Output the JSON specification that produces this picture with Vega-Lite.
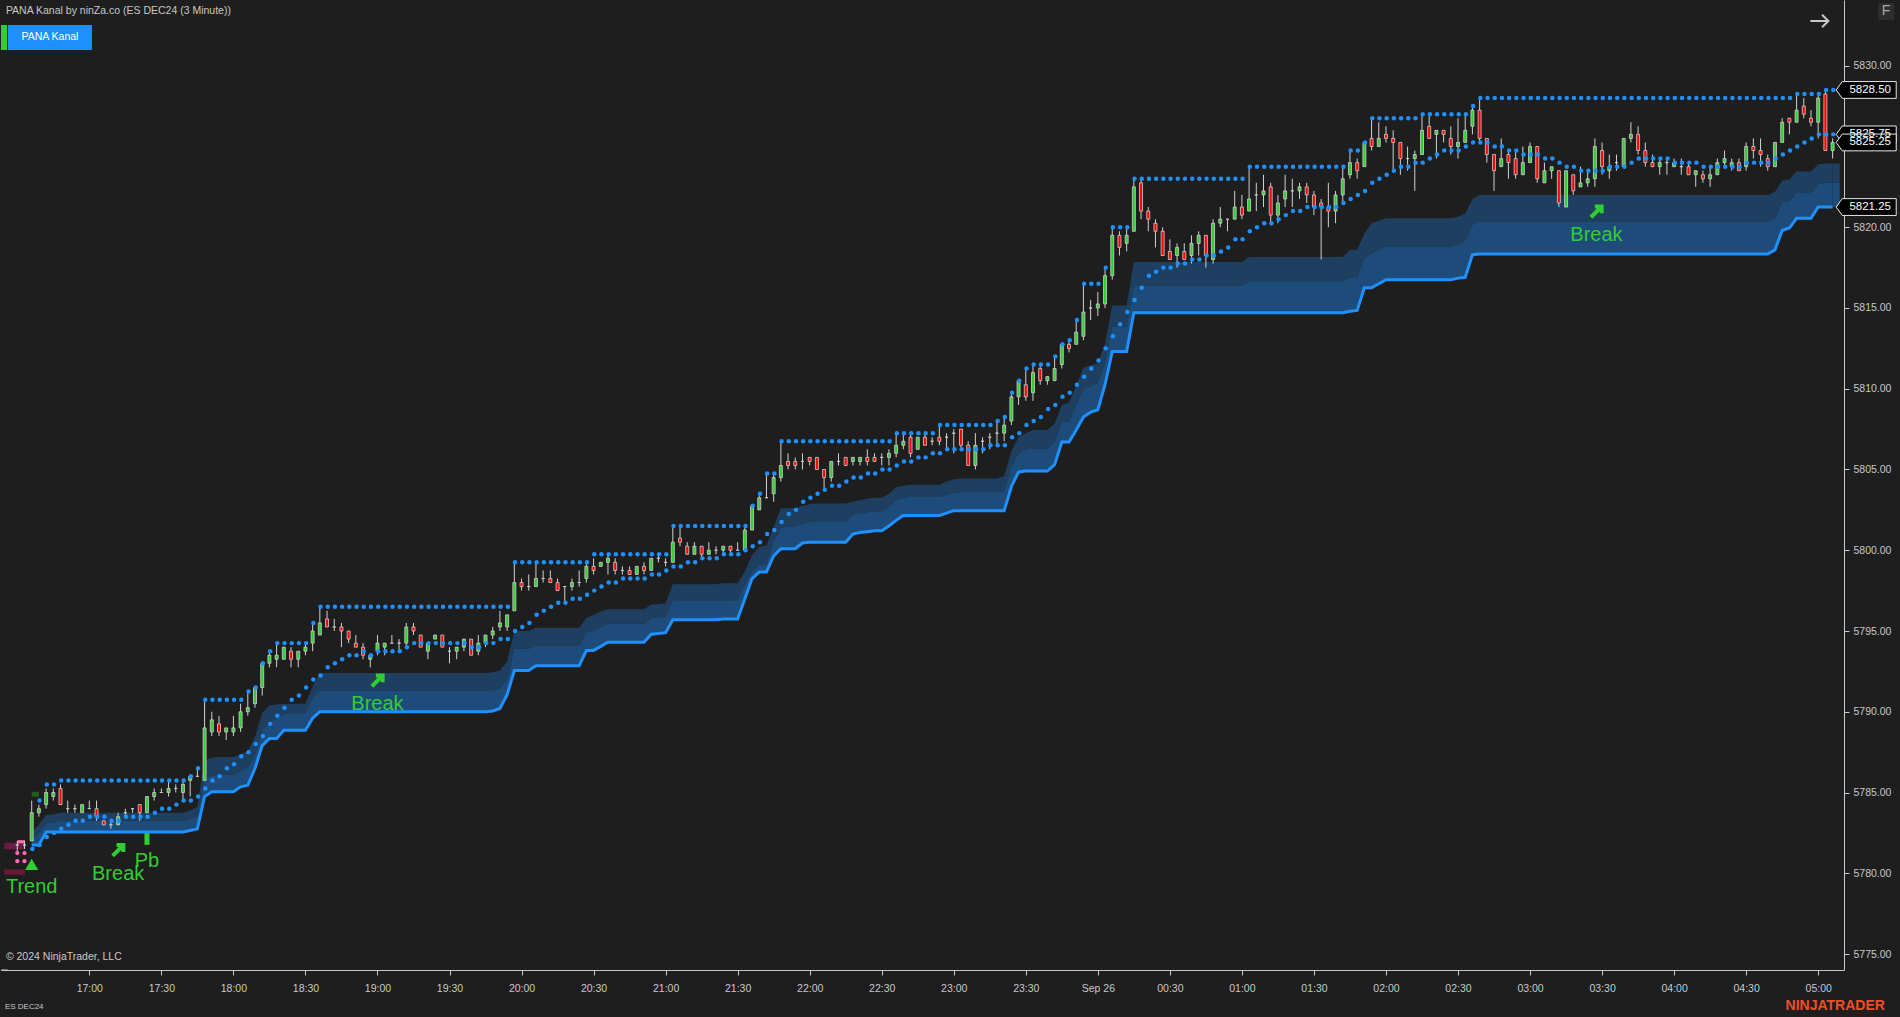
{"$schema":"https://vega.github.io/schema/vega-lite/v6.json","autosize":{"type":"fit","contains":"padding"},"padding":{"left":0,"top":0,"right":0,"bottom":2},"width":1900,"height":1017,"background":"#1e1e1e","config":{"view":{"stroke":null},"font":"Liberation Sans"},
"datasets":{"bars":[
{"t":"2024-09-25T16:30","o":5781.75,"h":5782,"l":5781.25,"c":5781.75},
{"t":"2024-09-25T16:33","o":5781.75,"h":5782,"l":5781.5,"c":5781.75},
{"t":"2024-09-25T16:36","o":5782,"h":5784.5,"l":5782,"c":5783.75,"d":5781.5,"a":5782.55,"m":5782.1,"b":5781.75},
{"t":"2024-09-25T16:39","o":5783.75,"h":5784.25,"l":5783.5,"c":5784,"u":5784.5,"d":5781.75,"a":5783,"m":5782.5,"b":5781.75},
{"t":"2024-09-25T16:42","o":5784.25,"h":5785.25,"l":5784,"c":5785,"u":5785.5,"d":5782.25,"a":5783.6,"m":5783.1,"b":5782.55},
{"t":"2024-09-25T16:45","o":5784.75,"h":5785.25,"l":5784.5,"c":5785,"u":5785.5,"d":5782.5,"a":5783.65,"m":5783.15,"b":5782.55},
{"t":"2024-09-25T16:48","o":5785.25,"h":5785.5,"l":5784.25,"c":5784.25,"u":5785.75,"d":5782.75,"a":5783.75,"m":5783.25,"b":5782.55},
{"t":"2024-09-25T16:51","o":5784,"h":5784.5,"l":5783.75,"c":5784,"u":5785.75,"d":5783,"a":5783.75,"m":5783.25,"b":5782.55},
{"t":"2024-09-25T16:54","o":5784,"h":5784.25,"l":5783.75,"c":5784,"u":5785.75,"d":5783.25,"a":5783.75,"m":5783.25,"b":5782.55},
{"t":"2024-09-25T16:57","o":5783.75,"h":5784.25,"l":5783.75,"c":5784.25,"u":5785.75,"d":5783.25,"a":5783.75,"m":5783.25,"b":5782.55},
{"t":"2024-09-25T17:00","o":5784,"h":5784.5,"l":5784,"c":5784,"u":5785.75,"d":5783.5,"a":5783.75,"m":5783.25,"b":5782.55},
{"t":"2024-09-25T17:03","o":5784,"h":5784.5,"l":5783.25,"c":5783.5,"u":5785.75,"d":5783.5,"a":5783.75,"m":5783.25,"b":5782.55},
{"t":"2024-09-25T17:06","o":5783.25,"h":5783.25,"l":5783,"c":5783,"u":5785.75,"d":5783.5,"a":5783.75,"m":5783.25,"b":5782.55},
{"t":"2024-09-25T17:09","o":5783,"h":5783.25,"l":5782.75,"c":5783,"u":5785.75,"d":5783.25,"a":5783.75,"m":5783.25,"b":5782.55},
{"t":"2024-09-25T17:12","o":5783,"h":5783.75,"l":5783,"c":5783.5,"u":5785.75,"d":5783.25,"a":5783.75,"m":5783.25,"b":5782.55},
{"t":"2024-09-25T17:15","o":5783.75,"h":5784,"l":5783.5,"c":5783.75,"u":5785.75,"d":5783.5,"a":5783.75,"m":5783.25,"b":5782.55},
{"t":"2024-09-25T17:18","o":5784,"h":5784,"l":5783.75,"c":5784,"u":5785.75,"d":5783.5,"a":5783.75,"m":5783.25,"b":5782.55},
{"t":"2024-09-25T17:21","o":5784.25,"h":5784.25,"l":5783.25,"c":5783.75,"u":5785.75,"d":5783.5,"a":5783.75,"m":5783.25,"b":5782.55},
{"t":"2024-09-25T17:24","o":5783.75,"h":5784.75,"l":5783.75,"c":5784.75,"u":5785.75,"d":5783.5,"a":5783.75,"m":5783.25,"b":5782.55},
{"t":"2024-09-25T17:27","o":5784.75,"h":5785.25,"l":5784.5,"c":5785,"u":5785.75,"d":5783.75,"a":5783.75,"m":5783.25,"b":5782.55},
{"t":"2024-09-25T17:30","o":5785,"h":5785.25,"l":5785,"c":5785,"u":5785.75,"d":5784,"a":5783.75,"m":5783.25,"b":5782.55},
{"t":"2024-09-25T17:33","o":5785,"h":5785.75,"l":5784.75,"c":5785.25,"u":5785.75,"d":5784,"a":5783.75,"m":5783.25,"b":5782.55},
{"t":"2024-09-25T17:36","o":5785.25,"h":5785.5,"l":5785,"c":5785.25,"u":5785.75,"d":5784.25,"a":5783.75,"m":5783.25,"b":5782.55},
{"t":"2024-09-25T17:39","o":5785,"h":5785.75,"l":5784.5,"c":5785.5,"u":5785.75,"d":5784.5,"a":5783.75,"m":5783.25,"b":5782.55},
{"t":"2024-09-25T17:42","o":5785.75,"h":5786,"l":5784.75,"c":5786,"u":5786,"d":5784.5,"a":5783.9,"m":5783.35,"b":5782.65},
{"t":"2024-09-25T17:45","o":5786,"h":5786.5,"l":5786,"c":5786,"u":5786.5,"d":5784.75,"a":5784.1,"m":5783.5,"b":5782.75},
{"t":"2024-09-25T17:48","o":5785.75,"h":5790.75,"l":5785.75,"c":5789,"u":5790.75,"d":5785.25,"a":5787,"m":5785.9,"b":5784.75},
{"t":"2024-09-25T17:51","o":5788.75,"h":5790,"l":5788.5,"c":5789.5,"u":5790.75,"d":5785.75,"a":5787.15,"m":5786.05,"b":5785.05},
{"t":"2024-09-25T17:54","o":5789.25,"h":5789.75,"l":5788.5,"c":5788.75,"u":5790.75,"d":5786,"a":5787.2,"m":5786.1,"b":5785.05},
{"t":"2024-09-25T17:57","o":5788.75,"h":5789,"l":5788.25,"c":5789,"u":5790.75,"d":5786.5,"a":5787.2,"m":5786.1,"b":5785.05},
{"t":"2024-09-25T18:00","o":5788.75,"h":5789.75,"l":5788.5,"c":5789,"u":5790.75,"d":5786.75,"a":5787.2,"m":5786.1,"b":5785.05},
{"t":"2024-09-25T18:03","o":5789,"h":5790.5,"l":5788.75,"c":5790,"u":5790.75,"d":5787.25,"a":5787.35,"m":5786.35,"b":5785.35},
{"t":"2024-09-25T18:06","o":5790,"h":5791.25,"l":5789.75,"c":5790.25,"u":5791.25,"d":5787.5,"a":5787.55,"m":5786.6,"b":5785.45},
{"t":"2024-09-25T18:09","o":5790.5,"h":5791.5,"l":5790.25,"c":5791.5,"u":5791.5,"d":5788,"a":5788.45,"m":5787.3,"b":5786.5},
{"t":"2024-09-25T18:12","o":5791.5,"h":5793,"l":5791,"c":5793,"u":5793,"d":5788.5,"a":5789.9,"m":5788.9,"b":5787.9},
{"t":"2024-09-25T18:15","o":5793,"h":5793.75,"l":5792.75,"c":5793.5,"u":5793.75,"d":5789.25,"a":5790.4,"m":5789.3,"b":5788.35},
{"t":"2024-09-25T18:18","o":5793.25,"h":5794.25,"l":5792.75,"c":5793.5,"u":5794.25,"d":5789.75,"a":5790.45,"m":5789.6,"b":5788.35},
{"t":"2024-09-25T18:21","o":5793.25,"h":5794,"l":5793.25,"c":5794,"u":5794.25,"d":5790.25,"a":5790.5,"m":5789.85,"b":5788.85},
{"t":"2024-09-25T18:24","o":5793.75,"h":5794,"l":5792.75,"c":5793.25,"u":5794.25,"d":5790.75,"a":5790.5,"m":5789.9,"b":5788.85},
{"t":"2024-09-25T18:27","o":5793.25,"h":5793.75,"l":5792.75,"c":5793.75,"u":5794.25,"d":5791,"a":5790.5,"m":5789.9,"b":5788.85},
{"t":"2024-09-25T18:30","o":5793.75,"h":5794.25,"l":5793.5,"c":5794,"u":5794.25,"d":5791.5,"a":5790.5,"m":5789.9,"b":5788.85},
{"t":"2024-09-25T18:33","o":5794.25,"h":5795.5,"l":5793.75,"c":5795,"u":5795.5,"d":5792,"a":5791.55,"m":5790.9,"b":5789.6},
{"t":"2024-09-25T18:36","o":5794.75,"h":5796.5,"l":5794.75,"c":5795.5,"u":5796.5,"d":5792.25,"a":5792.4,"m":5791.3,"b":5790},
{"t":"2024-09-25T18:39","o":5795.75,"h":5796.25,"l":5795.25,"c":5795.25,"u":5796.5,"d":5792.75,"a":5792.4,"m":5791.3,"b":5790},
{"t":"2024-09-25T18:42","o":5795.25,"h":5795.75,"l":5795,"c":5795.25,"u":5796.5,"d":5793,"a":5792.4,"m":5791.3,"b":5790},
{"t":"2024-09-25T18:45","o":5795.25,"h":5795.5,"l":5794,"c":5795,"u":5796.5,"d":5793.25,"a":5792.4,"m":5791.3,"b":5790},
{"t":"2024-09-25T18:48","o":5795,"h":5795,"l":5794.25,"c":5794.5,"u":5796.5,"d":5793.5,"a":5792.4,"m":5791.3,"b":5790},
{"t":"2024-09-25T18:51","o":5794.25,"h":5794.75,"l":5794,"c":5794,"u":5796.5,"d":5793.5,"a":5792.4,"m":5791.3,"b":5790},
{"t":"2024-09-25T18:54","o":5794,"h":5794.25,"l":5793.25,"c":5793.5,"u":5796.5,"d":5793.75,"a":5792.4,"m":5791.3,"b":5790},
{"t":"2024-09-25T18:57","o":5793.25,"h":5793.5,"l":5792.75,"c":5793.5,"u":5796.5,"d":5793.5,"a":5792.4,"m":5791.3,"b":5790},
{"t":"2024-09-25T19:00","o":5793.75,"h":5794.75,"l":5793.5,"c":5794.25,"u":5796.5,"d":5793.75,"a":5792.4,"m":5791.3,"b":5790},
{"t":"2024-09-25T19:03","o":5794,"h":5794.25,"l":5793.5,"c":5794.25,"u":5796.5,"d":5793.75,"a":5792.4,"m":5791.3,"b":5790},
{"t":"2024-09-25T19:06","o":5794.25,"h":5794.75,"l":5794.25,"c":5794.25,"u":5796.5,"d":5793.75,"a":5792.4,"m":5791.3,"b":5790},
{"t":"2024-09-25T19:09","o":5794.25,"h":5794.5,"l":5793.75,"c":5794.25,"u":5796.5,"d":5793.75,"a":5792.4,"m":5791.3,"b":5790},
{"t":"2024-09-25T19:12","o":5794.25,"h":5795.5,"l":5794,"c":5795.25,"u":5796.5,"d":5794,"a":5792.4,"m":5791.3,"b":5790},
{"t":"2024-09-25T19:15","o":5795.25,"h":5795.5,"l":5794.75,"c":5795,"u":5796.5,"d":5794.25,"a":5792.4,"m":5791.3,"b":5790},
{"t":"2024-09-25T19:18","o":5794.75,"h":5794.75,"l":5794,"c":5794,"u":5796.5,"d":5794.25,"a":5792.4,"m":5791.3,"b":5790},
{"t":"2024-09-25T19:21","o":5793.75,"h":5794.25,"l":5793.25,"c":5794.25,"u":5796.5,"d":5794.25,"a":5792.4,"m":5791.3,"b":5790},
{"t":"2024-09-25T19:24","o":5794.5,"h":5794.75,"l":5794.5,"c":5794.75,"u":5796.5,"d":5794.25,"a":5792.4,"m":5791.3,"b":5790},
{"t":"2024-09-25T19:27","o":5794.75,"h":5794.75,"l":5794,"c":5794,"u":5796.5,"d":5794.25,"a":5792.4,"m":5791.3,"b":5790},
{"t":"2024-09-25T19:30","o":5793.75,"h":5794,"l":5793,"c":5793.75,"u":5796.5,"d":5794.25,"a":5792.4,"m":5791.3,"b":5790},
{"t":"2024-09-25T19:33","o":5793.75,"h":5794,"l":5793.25,"c":5794,"u":5796.5,"d":5794.25,"a":5792.4,"m":5791.3,"b":5790},
{"t":"2024-09-25T19:36","o":5794,"h":5794.5,"l":5793.75,"c":5794.5,"u":5796.5,"d":5794.25,"a":5792.4,"m":5791.3,"b":5790},
{"t":"2024-09-25T19:39","o":5794.5,"h":5794.5,"l":5793.5,"c":5793.5,"u":5796.5,"d":5794,"a":5792.4,"m":5791.3,"b":5790},
{"t":"2024-09-25T19:42","o":5793.75,"h":5794.75,"l":5793.5,"c":5794.25,"u":5796.5,"d":5794,"a":5792.4,"m":5791.3,"b":5790},
{"t":"2024-09-25T19:45","o":5794.25,"h":5794.75,"l":5794,"c":5794.75,"u":5796.5,"d":5794.25,"a":5792.4,"m":5791.3,"b":5790},
{"t":"2024-09-25T19:48","o":5794.75,"h":5795.25,"l":5794.5,"c":5795,"u":5796.5,"d":5794.25,"a":5792.45,"m":5791.35,"b":5790.05},
{"t":"2024-09-25T19:51","o":5795.25,"h":5796.25,"l":5795,"c":5795.5,"u":5796.5,"d":5794.5,"a":5792.55,"m":5791.45,"b":5790.2},
{"t":"2024-09-25T19:54","o":5795.25,"h":5796,"l":5795,"c":5796,"u":5796.5,"d":5794.5,"a":5793.1,"m":5791.95,"b":5791.05},
{"t":"2024-09-25T19:57","o":5796.25,"h":5799.25,"l":5796.25,"c":5798,"u":5799.25,"d":5795,"a":5795,"m":5793.9,"b":5792.55},
{"t":"2024-09-25T20:00","o":5798,"h":5798.25,"l":5797.5,"c":5797.75,"u":5799.25,"d":5795.25,"a":5795,"m":5793.9,"b":5792.55},
{"t":"2024-09-25T20:03","o":5797.75,"h":5798.5,"l":5797.5,"c":5797.75,"u":5799.25,"d":5795.5,"a":5795,"m":5793.9,"b":5792.55},
{"t":"2024-09-25T20:06","o":5797.75,"h":5799.25,"l":5797.75,"c":5798.25,"u":5799.25,"d":5796,"a":5795.2,"m":5794.1,"b":5792.85},
{"t":"2024-09-25T20:09","o":5798.25,"h":5798.75,"l":5798,"c":5798.25,"u":5799.25,"d":5796.25,"a":5795.2,"m":5794.1,"b":5792.85},
{"t":"2024-09-25T20:12","o":5798.25,"h":5798.75,"l":5798,"c":5798,"u":5799.25,"d":5796.5,"a":5795.2,"m":5794.1,"b":5792.85},
{"t":"2024-09-25T20:15","o":5798,"h":5798.25,"l":5797.5,"c":5797.5,"u":5799.25,"d":5796.75,"a":5795.2,"m":5794.1,"b":5792.85},
{"t":"2024-09-25T20:18","o":5797.75,"h":5797.75,"l":5796.75,"c":5797.75,"u":5799.25,"d":5796.75,"a":5795.2,"m":5794.1,"b":5792.85},
{"t":"2024-09-25T20:21","o":5797.75,"h":5798.25,"l":5797.5,"c":5798,"u":5799.25,"d":5797,"a":5795.2,"m":5794.1,"b":5792.85},
{"t":"2024-09-25T20:24","o":5798,"h":5798.75,"l":5797.75,"c":5798,"u":5799.25,"d":5797,"a":5795.2,"m":5794.1,"b":5792.85},
{"t":"2024-09-25T20:27","o":5798.25,"h":5799.25,"l":5798,"c":5799,"u":5799.25,"d":5797.25,"a":5795.8,"m":5794.9,"b":5793.8},
{"t":"2024-09-25T20:30","o":5799,"h":5799.5,"l":5798.5,"c":5798.75,"u":5799.75,"d":5797.5,"a":5796,"m":5795,"b":5793.8},
{"t":"2024-09-25T20:33","o":5799,"h":5799.25,"l":5799,"c":5799.25,"u":5799.75,"d":5797.75,"a":5796.2,"m":5795.25,"b":5794.05},
{"t":"2024-09-25T20:36","o":5799.25,"h":5799.75,"l":5798.5,"c":5799.5,"u":5799.75,"d":5798,"a":5796.35,"m":5795.45,"b":5794.3},
{"t":"2024-09-25T20:39","o":5799.25,"h":5799.5,"l":5798.5,"c":5798.75,"u":5799.75,"d":5798,"a":5796.35,"m":5795.45,"b":5794.3},
{"t":"2024-09-25T20:42","o":5798.75,"h":5799,"l":5798.5,"c":5798.75,"u":5799.75,"d":5798.25,"a":5796.35,"m":5795.45,"b":5794.3},
{"t":"2024-09-25T20:45","o":5798.75,"h":5799,"l":5798.5,"c":5798.5,"u":5799.75,"d":5798.25,"a":5796.35,"m":5795.45,"b":5794.3},
{"t":"2024-09-25T20:48","o":5798.5,"h":5799,"l":5798.5,"c":5799,"u":5799.75,"d":5798.25,"a":5796.35,"m":5795.45,"b":5794.3},
{"t":"2024-09-25T20:51","o":5799,"h":5799.25,"l":5798.5,"c":5798.75,"u":5799.75,"d":5798.25,"a":5796.35,"m":5795.45,"b":5794.3},
{"t":"2024-09-25T20:54","o":5798.75,"h":5799.5,"l":5798.75,"c":5799.5,"u":5799.75,"d":5798.5,"a":5796.65,"m":5795.8,"b":5794.8},
{"t":"2024-09-25T20:57","o":5799.5,"h":5799.75,"l":5799.25,"c":5799.5,"u":5799.75,"d":5798.5,"a":5796.65,"m":5795.85,"b":5794.85},
{"t":"2024-09-25T21:00","o":5799.25,"h":5799.5,"l":5799,"c":5799.25,"u":5799.75,"d":5798.75,"a":5796.7,"m":5795.9,"b":5794.9},
{"t":"2024-09-25T21:03","o":5799.25,"h":5801.5,"l":5799.25,"c":5800.5,"u":5801.5,"d":5799,"a":5797.9,"m":5796.85,"b":5795.7},
{"t":"2024-09-25T21:06","o":5800.75,"h":5801.5,"l":5800.25,"c":5800.5,"u":5801.5,"d":5799,"a":5797.9,"m":5796.85,"b":5795.7},
{"t":"2024-09-25T21:09","o":5800.25,"h":5800.5,"l":5799.75,"c":5799.75,"u":5801.5,"d":5799.25,"a":5797.9,"m":5796.85,"b":5795.7},
{"t":"2024-09-25T21:12","o":5799.75,"h":5800.5,"l":5799.75,"c":5800.25,"u":5801.5,"d":5799.25,"a":5797.9,"m":5796.85,"b":5795.7},
{"t":"2024-09-25T21:15","o":5800.25,"h":5800.25,"l":5799.5,"c":5799.75,"u":5801.5,"d":5799.5,"a":5797.9,"m":5796.85,"b":5795.7},
{"t":"2024-09-25T21:18","o":5799.75,"h":5800.5,"l":5799.75,"c":5800,"u":5801.5,"d":5799.5,"a":5797.9,"m":5796.85,"b":5795.7},
{"t":"2024-09-25T21:21","o":5800,"h":5800.25,"l":5799.75,"c":5800,"u":5801.5,"d":5799.5,"a":5797.9,"m":5796.85,"b":5795.7},
{"t":"2024-09-25T21:24","o":5800,"h":5800.25,"l":5799.75,"c":5800.25,"u":5801.5,"d":5799.75,"a":5797.95,"m":5796.9,"b":5795.75},
{"t":"2024-09-25T21:27","o":5800.25,"h":5800.25,"l":5799.75,"c":5800,"u":5801.5,"d":5799.75,"a":5797.95,"m":5796.9,"b":5795.75},
{"t":"2024-09-25T21:30","o":5800,"h":5800.5,"l":5800,"c":5800,"u":5801.5,"d":5799.75,"a":5797.95,"m":5796.9,"b":5795.75},
{"t":"2024-09-25T21:33","o":5800,"h":5801.5,"l":5800,"c":5801.25,"u":5801.5,"d":5800,"a":5798.7,"m":5797.9,"b":5797},
{"t":"2024-09-25T21:36","o":5801.25,"h":5802.75,"l":5801.25,"c":5802.75,"u":5802.75,"d":5800.25,"a":5799.7,"m":5798.7,"b":5798.25},
{"t":"2024-09-25T21:39","o":5802.5,"h":5803.5,"l":5802.5,"c":5803.25,"u":5803.5,"d":5800.5,"a":5800.2,"m":5799.1,"b":5798.65},
{"t":"2024-09-25T21:42","o":5803.25,"h":5804.75,"l":5803.25,"c":5803.25,"u":5804.75,"d":5801,"a":5800.3,"m":5799.15,"b":5798.65},
{"t":"2024-09-25T21:45","o":5803.5,"h":5804.75,"l":5803,"c":5804.5,"u":5804.75,"d":5801.25,"a":5801.45,"m":5800.6,"b":5799.65},
{"t":"2024-09-25T21:48","o":5804.5,"h":5806.75,"l":5804.25,"c":5805.25,"u":5806.75,"d":5801.75,"a":5802.6,"m":5801.4,"b":5800.1},
{"t":"2024-09-25T21:51","o":5805.5,"h":5806,"l":5805,"c":5805.25,"u":5806.75,"d":5802.25,"a":5802.6,"m":5801.45,"b":5800.1},
{"t":"2024-09-25T21:54","o":5805.5,"h":5805.75,"l":5805,"c":5805.25,"u":5806.75,"d":5802.5,"a":5802.6,"m":5801.5,"b":5800.1},
{"t":"2024-09-25T21:57","o":5805.5,"h":5806,"l":5805,"c":5805.5,"u":5806.75,"d":5803,"a":5802.75,"m":5801.65,"b":5800.45},
{"t":"2024-09-25T22:00","o":5805.75,"h":5805.75,"l":5805.25,"c":5805.5,"u":5806.75,"d":5803.25,"a":5802.85,"m":5801.75,"b":5800.5},
{"t":"2024-09-25T22:03","o":5805.75,"h":5805.75,"l":5805,"c":5805,"u":5806.75,"d":5803.5,"a":5802.9,"m":5801.8,"b":5800.5},
{"t":"2024-09-25T22:06","o":5805,"h":5805,"l":5803.75,"c":5804.5,"u":5806.75,"d":5803.75,"a":5802.9,"m":5801.8,"b":5800.5},
{"t":"2024-09-25T22:09","o":5804.5,"h":5805.5,"l":5804.25,"c":5805.5,"u":5806.75,"d":5804,"a":5802.9,"m":5801.8,"b":5800.5},
{"t":"2024-09-25T22:12","o":5805.5,"h":5806,"l":5805.25,"c":5805.5,"u":5806.75,"d":5804,"a":5802.9,"m":5801.8,"b":5800.5},
{"t":"2024-09-25T22:15","o":5805.75,"h":5805.75,"l":5805.25,"c":5805.25,"u":5806.75,"d":5804.25,"a":5802.9,"m":5801.8,"b":5800.5},
{"t":"2024-09-25T22:18","o":5805.5,"h":5805.75,"l":5805.25,"c":5805.75,"u":5806.75,"d":5804.5,"a":5803,"m":5802.2,"b":5801},
{"t":"2024-09-25T22:21","o":5805.5,"h":5805.75,"l":5805.25,"c":5805.75,"u":5806.75,"d":5804.5,"a":5803.1,"m":5802.3,"b":5801.1},
{"t":"2024-09-25T22:24","o":5805.75,"h":5806.25,"l":5805.25,"c":5805.5,"u":5806.75,"d":5804.75,"a":5803.2,"m":5802.35,"b":5801.15},
{"t":"2024-09-25T22:27","o":5805.75,"h":5806,"l":5805.5,"c":5805.5,"u":5806.75,"d":5804.75,"a":5803.25,"m":5802.4,"b":5801.2},
{"t":"2024-09-25T22:30","o":5805.75,"h":5806,"l":5805.25,"c":5805.75,"u":5806.75,"d":5805,"a":5803.25,"m":5802.4,"b":5801.2},
{"t":"2024-09-25T22:33","o":5805.75,"h":5806.25,"l":5805.25,"c":5806,"u":5806.75,"d":5805,"a":5803.5,"m":5802.7,"b":5801.5},
{"t":"2024-09-25T22:36","o":5806,"h":5807.25,"l":5805.75,"c":5806.5,"u":5807.25,"d":5805.25,"a":5803.9,"m":5803.1,"b":5801.85},
{"t":"2024-09-25T22:39","o":5806.5,"h":5807.25,"l":5806.25,"c":5806.75,"u":5807.25,"d":5805.5,"a":5804,"m":5803.25,"b":5802.15},
{"t":"2024-09-25T22:42","o":5807,"h":5807.25,"l":5805.75,"c":5806,"u":5807.25,"d":5805.5,"a":5804.05,"m":5803.3,"b":5802.15},
{"t":"2024-09-25T22:45","o":5806.25,"h":5807,"l":5806.25,"c":5807,"u":5807.25,"d":5805.75,"a":5804.05,"m":5803.3,"b":5802.15},
{"t":"2024-09-25T22:48","o":5807,"h":5807.25,"l":5806.5,"c":5806.5,"u":5807.25,"d":5805.75,"a":5804.05,"m":5803.3,"b":5802.15},
{"t":"2024-09-25T22:51","o":5806.75,"h":5807,"l":5806.5,"c":5806.75,"u":5807.25,"d":5806,"a":5804.05,"m":5803.3,"b":5802.15},
{"t":"2024-09-25T22:54","o":5807,"h":5807.75,"l":5806.5,"c":5806.75,"u":5807.75,"d":5806,"a":5804.05,"m":5803.3,"b":5802.15},
{"t":"2024-09-25T22:57","o":5807,"h":5807.25,"l":5806.25,"c":5807,"u":5807.75,"d":5806.25,"a":5804.25,"m":5803.45,"b":5802.3},
{"t":"2024-09-25T23:00","o":5807.25,"h":5807.5,"l":5806,"c":5807.25,"u":5807.75,"d":5806.25,"a":5804.4,"m":5803.55,"b":5802.45},
{"t":"2024-09-25T23:03","o":5807.5,"h":5807.5,"l":5806.25,"c":5806.5,"u":5807.75,"d":5806.25,"a":5804.45,"m":5803.6,"b":5802.45},
{"t":"2024-09-25T23:06","o":5806.5,"h":5806.75,"l":5805.25,"c":5805.25,"u":5807.75,"d":5806.25,"a":5804.45,"m":5803.6,"b":5802.45},
{"t":"2024-09-25T23:09","o":5805.25,"h":5807.25,"l":5805,"c":5806.5,"u":5807.75,"d":5806.25,"a":5804.45,"m":5803.6,"b":5802.45},
{"t":"2024-09-25T23:12","o":5806.75,"h":5807,"l":5806,"c":5806.75,"u":5807.75,"d":5806.25,"a":5804.45,"m":5803.6,"b":5802.45},
{"t":"2024-09-25T23:15","o":5807,"h":5807.25,"l":5806.25,"c":5807,"u":5807.75,"d":5806.5,"a":5804.45,"m":5803.6,"b":5802.45},
{"t":"2024-09-25T23:18","o":5807.25,"h":5808,"l":5806.5,"c":5807.25,"u":5808,"d":5806.5,"a":5804.45,"m":5803.6,"b":5802.45},
{"t":"2024-09-25T23:21","o":5807.25,"h":5808.25,"l":5806.75,"c":5807.75,"u":5808.25,"d":5806.5,"a":5804.6,"m":5803.65,"b":5802.45},
{"t":"2024-09-25T23:24","o":5808,"h":5809.75,"l":5807.75,"c":5809.5,"u":5809.75,"d":5807,"a":5806.15,"m":5805.2,"b":5803.95},
{"t":"2024-09-25T23:27","o":5809.5,"h":5810.5,"l":5809,"c":5810.5,"u":5810.5,"d":5807.25,"a":5807,"m":5806,"b":5804.85},
{"t":"2024-09-25T23:30","o":5810.25,"h":5811.25,"l":5809.25,"c":5809.5,"u":5811.25,"d":5807.75,"a":5807.25,"m":5806.2,"b":5804.9},
{"t":"2024-09-25T23:33","o":5809.75,"h":5811.5,"l":5809.25,"c":5811,"u":5811.5,"d":5808,"a":5807.45,"m":5806.3,"b":5804.9},
{"t":"2024-09-25T23:36","o":5811.25,"h":5811.5,"l":5810.25,"c":5810.5,"u":5811.5,"d":5808.25,"a":5807.45,"m":5806.3,"b":5804.9},
{"t":"2024-09-25T23:39","o":5810.5,"h":5810.75,"l":5810.25,"c":5810.75,"u":5811.5,"d":5808.75,"a":5807.45,"m":5806.3,"b":5804.9},
{"t":"2024-09-25T23:42","o":5810.5,"h":5812,"l":5810.5,"c":5811.25,"u":5812,"d":5809,"a":5807.85,"m":5806.7,"b":5805.3},
{"t":"2024-09-25T23:45","o":5811.5,"h":5812.75,"l":5811.25,"c":5812.75,"u":5812.75,"d":5809.5,"a":5809,"m":5807.95,"b":5806.7},
{"t":"2024-09-25T23:48","o":5812.75,"h":5813,"l":5812.25,"c":5812.5,"u":5813,"d":5809.75,"a":5809.15,"m":5807.95,"b":5806.7},
{"t":"2024-09-25T23:51","o":5812.75,"h":5814.25,"l":5812.75,"c":5813.5,"u":5814.25,"d":5810.25,"a":5810.2,"m":5809,"b":5807.45},
{"t":"2024-09-25T23:54","o":5813.25,"h":5816.5,"l":5813,"c":5814.75,"u":5816.5,"d":5810.75,"a":5811.3,"m":5810,"b":5808.25},
{"t":"2024-09-25T23:57","o":5815,"h":5815.5,"l":5814.25,"c":5815,"u":5816.5,"d":5811.25,"a":5811.45,"m":5810.15,"b":5808.55},
{"t":"2024-09-26T00:00","o":5815,"h":5816,"l":5814.5,"c":5815.25,"u":5816.5,"d":5811.75,"a":5811.6,"m":5810.35,"b":5808.7},
{"t":"2024-09-26T00:03","o":5815.25,"h":5817.5,"l":5815,"c":5817,"u":5817.5,"d":5812.5,"a":5812.8,"m":5811.6,"b":5810.25},
{"t":"2024-09-26T00:06","o":5817,"h":5820,"l":5816.75,"c":5819.5,"u":5820,"d":5813.25,"a":5815.15,"m":5813.85,"b":5812.3},
{"t":"2024-09-26T00:09","o":5819.5,"h":5819.75,"l":5818.25,"c":5818.75,"u":5820,"d":5814,"a":5815.15,"m":5813.85,"b":5812.3},
{"t":"2024-09-26T00:12","o":5819,"h":5820,"l":5818.5,"c":5819.5,"u":5820,"d":5814.75,"a":5815.15,"m":5813.85,"b":5812.3},
{"t":"2024-09-26T00:15","o":5819.75,"h":5823,"l":5819.75,"c":5822.5,"u":5823,"d":5815.5,"a":5817.85,"m":5816.4,"b":5814.7},
{"t":"2024-09-26T00:18","o":5822.75,"h":5823,"l":5820.5,"c":5821,"u":5823,"d":5816.25,"a":5817.85,"m":5816.4,"b":5814.7},
{"t":"2024-09-26T00:21","o":5821,"h":5821.25,"l":5819.75,"c":5820.5,"u":5823,"d":5817,"a":5817.85,"m":5816.4,"b":5814.7},
{"t":"2024-09-26T00:24","o":5820.25,"h":5820.5,"l":5818.75,"c":5819.75,"u":5823,"d":5817.25,"a":5817.85,"m":5816.4,"b":5814.7},
{"t":"2024-09-26T00:27","o":5819.75,"h":5820,"l":5818.25,"c":5818.25,"u":5823,"d":5817.5,"a":5817.85,"m":5816.4,"b":5814.7},
{"t":"2024-09-26T00:30","o":5818.5,"h":5819.25,"l":5818,"c":5818,"u":5823,"d":5817.5,"a":5817.85,"m":5816.4,"b":5814.7},
{"t":"2024-09-26T00:33","o":5818.25,"h":5819,"l":5817.5,"c":5818.75,"u":5823,"d":5817.75,"a":5817.85,"m":5816.4,"b":5814.7},
{"t":"2024-09-26T00:36","o":5818.5,"h":5819,"l":5818,"c":5818,"u":5823,"d":5817.75,"a":5817.85,"m":5816.4,"b":5814.7},
{"t":"2024-09-26T00:39","o":5818.25,"h":5819.5,"l":5817.75,"c":5819,"u":5823,"d":5818,"a":5817.85,"m":5816.4,"b":5814.7},
{"t":"2024-09-26T00:42","o":5819,"h":5819.75,"l":5818.25,"c":5819.5,"u":5823,"d":5818,"a":5817.85,"m":5816.4,"b":5814.7},
{"t":"2024-09-26T00:45","o":5819.5,"h":5819.5,"l":5817.5,"c":5818.25,"u":5823,"d":5818.25,"a":5817.85,"m":5816.4,"b":5814.7},
{"t":"2024-09-26T00:48","o":5818,"h":5820.5,"l":5817.75,"c":5820.25,"u":5823,"d":5818.25,"a":5817.85,"m":5816.4,"b":5814.7},
{"t":"2024-09-26T00:51","o":5820.25,"h":5821.25,"l":5820,"c":5820.5,"u":5823,"d":5818.5,"a":5817.85,"m":5816.4,"b":5814.7},
{"t":"2024-09-26T00:54","o":5820.5,"h":5820.5,"l":5819.75,"c":5820.5,"u":5823,"d":5818.75,"a":5817.85,"m":5816.4,"b":5814.7},
{"t":"2024-09-26T00:57","o":5820.5,"h":5822.25,"l":5820.5,"c":5821.25,"u":5823,"d":5819.25,"a":5817.85,"m":5816.4,"b":5814.7},
{"t":"2024-09-26T01:00","o":5821.25,"h":5822,"l":5820.5,"c":5820.75,"u":5823,"d":5819.25,"a":5817.85,"m":5816.4,"b":5814.7},
{"t":"2024-09-26T01:03","o":5821,"h":5823.75,"l":5821,"c":5821.75,"u":5823.75,"d":5819.75,"a":5818.15,"m":5816.65,"b":5814.7},
{"t":"2024-09-26T01:06","o":5822,"h":5822.75,"l":5821,"c":5822,"u":5823.75,"d":5820,"a":5818.15,"m":5816.65,"b":5814.7},
{"t":"2024-09-26T01:09","o":5822,"h":5823.25,"l":5821.25,"c":5822.25,"u":5823.75,"d":5820.25,"a":5818.15,"m":5816.65,"b":5814.7},
{"t":"2024-09-26T01:12","o":5822.5,"h":5822.75,"l":5820.25,"c":5820.75,"u":5823.75,"d":5820.25,"a":5818.15,"m":5816.65,"b":5814.7},
{"t":"2024-09-26T01:15","o":5820.75,"h":5822,"l":5820.25,"c":5821.5,"u":5823.75,"d":5820.5,"a":5818.15,"m":5816.65,"b":5814.7},
{"t":"2024-09-26T01:18","o":5821.75,"h":5823.25,"l":5821.25,"c":5822.25,"u":5823.75,"d":5820.75,"a":5818.15,"m":5816.65,"b":5814.7},
{"t":"2024-09-26T01:21","o":5822.25,"h":5823,"l":5821.25,"c":5822.25,"u":5823.75,"d":5821,"a":5818.15,"m":5816.65,"b":5814.7},
{"t":"2024-09-26T01:24","o":5822.25,"h":5822.75,"l":5821.75,"c":5822.5,"u":5823.75,"d":5821,"a":5818.15,"m":5816.65,"b":5814.7},
{"t":"2024-09-26T01:27","o":5822.5,"h":5822.75,"l":5821.5,"c":5822,"u":5823.75,"d":5821.25,"a":5818.15,"m":5816.65,"b":5814.7},
{"t":"2024-09-26T01:30","o":5822,"h":5822.25,"l":5820.75,"c":5821.25,"u":5823.75,"d":5821.25,"a":5818.15,"m":5816.65,"b":5814.7},
{"t":"2024-09-26T01:33","o":5821.5,"h":5821.75,"l":5818,"c":5821.25,"u":5823.75,"d":5821.25,"a":5818.15,"m":5816.65,"b":5814.7},
{"t":"2024-09-26T01:36","o":5821.25,"h":5822.75,"l":5820,"c":5821,"u":5823.75,"d":5821.25,"a":5818.15,"m":5816.65,"b":5814.7},
{"t":"2024-09-26T01:39","o":5821,"h":5822.25,"l":5820.25,"c":5822,"u":5823.75,"d":5821.25,"a":5818.15,"m":5816.65,"b":5814.7},
{"t":"2024-09-26T01:42","o":5822,"h":5823.75,"l":5821.5,"c":5823,"u":5823.75,"d":5821.5,"a":5818.15,"m":5816.65,"b":5814.7},
{"t":"2024-09-26T01:45","o":5823.25,"h":5824.75,"l":5823,"c":5824,"u":5824.75,"d":5821.75,"a":5818.6,"m":5816.9,"b":5814.8},
{"t":"2024-09-26T01:48","o":5824,"h":5824.25,"l":5823,"c":5823.5,"u":5824.75,"d":5822,"a":5818.6,"m":5816.9,"b":5814.85},
{"t":"2024-09-26T01:51","o":5823.75,"h":5825.25,"l":5823.75,"c":5825.25,"u":5825.25,"d":5822.25,"a":5819.6,"m":5818.05,"b":5816.25},
{"t":"2024-09-26T01:54","o":5825.5,"h":5826.75,"l":5824.75,"c":5825,"u":5826.75,"d":5822.75,"a":5820.25,"m":5818.4,"b":5816.25},
{"t":"2024-09-26T01:57","o":5825,"h":5826.5,"l":5825,"c":5825.5,"u":5826.75,"d":5823,"a":5820.4,"m":5818.6,"b":5816.5},
{"t":"2024-09-26T02:00","o":5825.75,"h":5826.25,"l":5825.25,"c":5825.5,"u":5826.75,"d":5823.25,"a":5820.55,"m":5818.8,"b":5816.75},
{"t":"2024-09-26T02:03","o":5825.5,"h":5826,"l":5823.5,"c":5825.25,"u":5826.75,"d":5823.5,"a":5820.55,"m":5818.8,"b":5816.75},
{"t":"2024-09-26T02:06","o":5825.25,"h":5825.25,"l":5823.25,"c":5824.25,"u":5826.75,"d":5823.75,"a":5820.55,"m":5818.8,"b":5816.75},
{"t":"2024-09-26T02:09","o":5824.25,"h":5825,"l":5823.5,"c":5824.25,"u":5826.75,"d":5823.75,"a":5820.55,"m":5818.8,"b":5816.75},
{"t":"2024-09-26T02:12","o":5824.25,"h":5824.75,"l":5822.25,"c":5824.5,"u":5826.75,"d":5824,"a":5820.55,"m":5818.8,"b":5816.75},
{"t":"2024-09-26T02:15","o":5824.5,"h":5827,"l":5824.5,"c":5826,"u":5827,"d":5824,"a":5820.55,"m":5818.8,"b":5816.75},
{"t":"2024-09-26T02:18","o":5826.25,"h":5827,"l":5825.5,"c":5825.5,"u":5827,"d":5824.25,"a":5820.55,"m":5818.8,"b":5816.75},
{"t":"2024-09-26T02:21","o":5825.75,"h":5826,"l":5824.25,"c":5826,"u":5827,"d":5824.5,"a":5820.55,"m":5818.8,"b":5816.75},
{"t":"2024-09-26T02:24","o":5826,"h":5826,"l":5825.25,"c":5825.75,"u":5827,"d":5824.75,"a":5820.55,"m":5818.8,"b":5816.75},
{"t":"2024-09-26T02:27","o":5825.5,"h":5826.25,"l":5824.5,"c":5825,"u":5827,"d":5824.75,"a":5820.55,"m":5818.8,"b":5816.75},
{"t":"2024-09-26T02:30","o":5825,"h":5826.75,"l":5824.25,"c":5825.25,"u":5827,"d":5824.75,"a":5820.65,"m":5818.95,"b":5816.85},
{"t":"2024-09-26T02:33","o":5825.25,"h":5827,"l":5825.25,"c":5826,"u":5827,"d":5825,"a":5820.85,"m":5819.2,"b":5816.9},
{"t":"2024-09-26T02:36","o":5826.25,"h":5827.5,"l":5825.75,"c":5827.25,"u":5827.5,"d":5825.25,"a":5821.75,"m":5820.15,"b":5818.3},
{"t":"2024-09-26T02:39","o":5827.25,"h":5828,"l":5825.25,"c":5825.5,"u":5828,"d":5825.25,"a":5822,"m":5820.35,"b":5818.35},
{"t":"2024-09-26T02:42","o":5825.5,"h":5825.5,"l":5824,"c":5824.5,"u":5828,"d":5825.25,"a":5822,"m":5820.35,"b":5818.35},
{"t":"2024-09-26T02:45","o":5824.5,"h":5824.5,"l":5822.25,"c":5823.5,"u":5828,"d":5825,"a":5822,"m":5820.35,"b":5818.35},
{"t":"2024-09-26T02:48","o":5823.75,"h":5825.5,"l":5823.75,"c":5824.25,"u":5828,"d":5825,"a":5822,"m":5820.35,"b":5818.35},
{"t":"2024-09-26T02:51","o":5824.5,"h":5824.75,"l":5823,"c":5824,"u":5828,"d":5824.75,"a":5822,"m":5820.35,"b":5818.35},
{"t":"2024-09-26T02:54","o":5824.25,"h":5824.75,"l":5823,"c":5823.25,"u":5828,"d":5824.75,"a":5822,"m":5820.35,"b":5818.35},
{"t":"2024-09-26T02:57","o":5823.25,"h":5825,"l":5823.25,"c":5824,"u":5828,"d":5824.5,"a":5822,"m":5820.35,"b":5818.35},
{"t":"2024-09-26T03:00","o":5824,"h":5825.25,"l":5824,"c":5825,"u":5828,"d":5824.5,"a":5822,"m":5820.35,"b":5818.35},
{"t":"2024-09-26T03:03","o":5825,"h":5825,"l":5822.75,"c":5823,"u":5828,"d":5824.5,"a":5822,"m":5820.35,"b":5818.35},
{"t":"2024-09-26T03:06","o":5822.75,"h":5824,"l":5822.75,"c":5823.5,"u":5828,"d":5824.25,"a":5822,"m":5820.35,"b":5818.35},
{"t":"2024-09-26T03:09","o":5823.5,"h":5823.75,"l":5823,"c":5823.75,"u":5828,"d":5824.25,"a":5822,"m":5820.35,"b":5818.35},
{"t":"2024-09-26T03:12","o":5823.5,"h":5823.5,"l":5821.25,"c":5821.5,"u":5828,"d":5824,"a":5822,"m":5820.35,"b":5818.35},
{"t":"2024-09-26T03:15","o":5821.25,"h":5823.5,"l":5821.25,"c":5823.5,"u":5828,"d":5823.75,"a":5822,"m":5820.35,"b":5818.35},
{"t":"2024-09-26T03:18","o":5823.25,"h":5823.25,"l":5822,"c":5822.25,"u":5828,"d":5823.75,"a":5822,"m":5820.35,"b":5818.35},
{"t":"2024-09-26T03:21","o":5822.5,"h":5823.75,"l":5822.5,"c":5822.75,"u":5828,"d":5823.5,"a":5822,"m":5820.35,"b":5818.35},
{"t":"2024-09-26T03:24","o":5822.75,"h":5823.5,"l":5822.5,"c":5823,"u":5828,"d":5823.5,"a":5822,"m":5820.35,"b":5818.35},
{"t":"2024-09-26T03:27","o":5823,"h":5825.5,"l":5822.5,"c":5825,"u":5828,"d":5823.5,"a":5822,"m":5820.35,"b":5818.35},
{"t":"2024-09-26T03:30","o":5824.75,"h":5825.25,"l":5823.25,"c":5823.75,"u":5828,"d":5823.5,"a":5822,"m":5820.35,"b":5818.35},
{"t":"2024-09-26T03:33","o":5823.5,"h":5824.5,"l":5823,"c":5823.75,"u":5828,"d":5823.75,"a":5822,"m":5820.35,"b":5818.35},
{"t":"2024-09-26T03:36","o":5824,"h":5824.5,"l":5823.5,"c":5824,"u":5828,"d":5823.75,"a":5822,"m":5820.35,"b":5818.35},
{"t":"2024-09-26T03:39","o":5823.75,"h":5825.5,"l":5823.75,"c":5825.5,"u":5828,"d":5823.75,"a":5822,"m":5820.35,"b":5818.35},
{"t":"2024-09-26T03:42","o":5825.5,"h":5826.5,"l":5825.25,"c":5825.75,"u":5828,"d":5824,"a":5822,"m":5820.35,"b":5818.35},
{"t":"2024-09-26T03:45","o":5825.75,"h":5826.25,"l":5824.5,"c":5824.75,"u":5828,"d":5824.25,"a":5822,"m":5820.35,"b":5818.35},
{"t":"2024-09-26T03:48","o":5824.75,"h":5825.25,"l":5823.75,"c":5824,"u":5828,"d":5824.25,"a":5822,"m":5820.35,"b":5818.35},
{"t":"2024-09-26T03:51","o":5824,"h":5824.5,"l":5823.75,"c":5823.75,"u":5828,"d":5824.25,"a":5822,"m":5820.35,"b":5818.35},
{"t":"2024-09-26T03:54","o":5823.75,"h":5824.25,"l":5823.25,"c":5824,"u":5828,"d":5824.25,"a":5822,"m":5820.35,"b":5818.35},
{"t":"2024-09-26T03:57","o":5824,"h":5824.25,"l":5823.25,"c":5824,"u":5828,"d":5824.25,"a":5822,"m":5820.35,"b":5818.35},
{"t":"2024-09-26T04:00","o":5823.75,"h":5824.25,"l":5823.75,"c":5824,"u":5828,"d":5824,"a":5822,"m":5820.35,"b":5818.35},
{"t":"2024-09-26T04:03","o":5823.75,"h":5824.25,"l":5823.25,"c":5823.75,"u":5828,"d":5824,"a":5822,"m":5820.35,"b":5818.35},
{"t":"2024-09-26T04:06","o":5823.75,"h":5824,"l":5823.25,"c":5823.25,"u":5828,"d":5824,"a":5822,"m":5820.35,"b":5818.35},
{"t":"2024-09-26T04:09","o":5823.25,"h":5823.5,"l":5822.5,"c":5823.5,"u":5828,"d":5824,"a":5822,"m":5820.35,"b":5818.35},
{"t":"2024-09-26T04:12","o":5823.25,"h":5823.5,"l":5822.75,"c":5823,"u":5828,"d":5823.75,"a":5822,"m":5820.35,"b":5818.35},
{"t":"2024-09-26T04:15","o":5823,"h":5823.75,"l":5822.5,"c":5823.25,"u":5828,"d":5823.75,"a":5822,"m":5820.35,"b":5818.35},
{"t":"2024-09-26T04:18","o":5823.25,"h":5824.25,"l":5823.25,"c":5824,"u":5828,"d":5823.75,"a":5822,"m":5820.35,"b":5818.35},
{"t":"2024-09-26T04:21","o":5824,"h":5824.75,"l":5823.75,"c":5824.25,"u":5828,"d":5823.75,"a":5822,"m":5820.35,"b":5818.35},
{"t":"2024-09-26T04:24","o":5823.75,"h":5824.25,"l":5823.5,"c":5824,"u":5828,"d":5823.75,"a":5822,"m":5820.35,"b":5818.35},
{"t":"2024-09-26T04:27","o":5824,"h":5824.25,"l":5823.5,"c":5823.5,"u":5828,"d":5823.75,"a":5822,"m":5820.35,"b":5818.35},
{"t":"2024-09-26T04:30","o":5823.75,"h":5825.25,"l":5823.5,"c":5825,"u":5828,"d":5824,"a":5822,"m":5820.35,"b":5818.35},
{"t":"2024-09-26T04:33","o":5825,"h":5825.5,"l":5824.25,"c":5824.75,"u":5828,"d":5824,"a":5822,"m":5820.35,"b":5818.35},
{"t":"2024-09-26T04:36","o":5824.75,"h":5825.5,"l":5823.75,"c":5824.5,"u":5828,"d":5824,"a":5822,"m":5820.35,"b":5818.35},
{"t":"2024-09-26T04:39","o":5824.25,"h":5824.5,"l":5823.5,"c":5823.75,"u":5828,"d":5824,"a":5822,"m":5820.35,"b":5818.35},
{"t":"2024-09-26T04:42","o":5823.75,"h":5825.25,"l":5823.75,"c":5825.25,"u":5828,"d":5824.25,"a":5822.2,"m":5820.55,"b":5818.6},
{"t":"2024-09-26T04:45","o":5825.25,"h":5826.75,"l":5825.25,"c":5826.5,"u":5828,"d":5824.5,"a":5822.9,"m":5821.6,"b":5819.8},
{"t":"2024-09-26T04:48","o":5826.75,"h":5826.75,"l":5825.75,"c":5826.5,"u":5828,"d":5824.75,"a":5822.95,"m":5821.6,"b":5819.95},
{"t":"2024-09-26T04:51","o":5826.5,"h":5828.25,"l":5826.5,"c":5827.25,"u":5828.25,"d":5825,"a":5823.45,"m":5822.15,"b":5820.55},
{"t":"2024-09-26T04:54","o":5827.5,"h":5828,"l":5826.75,"c":5827,"u":5828.25,"d":5825.25,"a":5823.45,"m":5822.15,"b":5820.55},
{"t":"2024-09-26T04:57","o":5826.75,"h":5827.25,"l":5826.25,"c":5826.5,"u":5828.25,"d":5825.5,"a":5823.45,"m":5822.15,"b":5820.55},
{"t":"2024-09-26T05:00","o":5826.5,"h":5828.25,"l":5825.5,"c":5828,"u":5828.25,"d":5825.75,"a":5823.9,"m":5822.7,"b":5821.25},
{"t":"2024-09-26T05:03","o":5828.25,"h":5828.5,"l":5824.75,"c":5824.75,"u":5828.5,"d":5825.75,"a":5823.95,"m":5822.75,"b":5821.25},
{"t":"2024-09-26T05:06","o":5824.75,"h":5825.5,"l":5824.25,"c":5825.25,"u":5828.5,"d":5825.75,"a":5823.95,"m":5822.75,"b":5821.25}
],
"bandTail":[{"t":"2024-09-26T05:06","a":5823.95,"m":5822.75,"b":5821.25},{"t":"2024-09-26T05:09","a":5823.95,"m":5822.75,"b":5821.25}],
"baseLine":[{"t":"2024-09-25T16:23:13","t2":"2024-09-25T16:26:00","p":5774.01}],
"pink":[{"t":"2024-09-25T16:30","p":5781.25},{"t":"2024-09-25T16:33","p":5781.25},{"t":"2024-09-25T16:30","p":5780.75},{"t":"2024-09-25T16:33","p":5780.75}],
"zones":[
{"t":"2024-09-25T16:24:35","t2":"2024-09-25T16:33:10","p":5781.89,"p2":5781.48,"k":"maroon"},
{"t":"2024-09-25T16:24:35","t2":"2024-09-25T16:33:10","p":5780.24,"p2":5779.91,"k":"wine"},
{"t":"2024-09-25T16:30:00","t2":"2024-09-25T16:33:10","p":5782.05,"p2":5781.85,"k":"pink"},
{"t":"2024-09-25T16:36:00","t2":"2024-09-25T16:39:00","p":5785.05,"p2":5784.74,"k":"forest"},
{"t":"2024-09-25T16:23:13","t2":"2024-09-25T16:25:43","p":5832.52,"p2":5830.97,"k":"tab"},
{"t":"2024-09-25T16:26:08","t2":"2024-09-25T17:01:05","p":5832.52,"p2":5830.97,"k":"button"},
{"t":"2024-09-26T05:25:00","t2":"2024-09-26T05:31:42","p":5833.88,"p2":5832.83,"k":"fbox"}
],
"signals":[
{"t":"2024-09-25T16:36","p":5780.55,"k":"triangle"},
{"t":"2024-09-25T17:12","p":5781.42,"k":"arrow"},
{"t":"2024-09-25T19:00","p":5791.92,"k":"arrow"},
{"t":"2024-09-26T03:27:40","p":5820.96,"k":"arrow"}
],
"labels":[
{"t":"2024-09-25T16:36","p":5779.16,"s":"Trend"},
{"t":"2024-09-25T17:12","p":5779.95,"s":"Break"},
{"t":"2024-09-25T17:24","p":5780.77,"s":"Pb"},
{"t":"2024-09-25T19:00","p":5790.47,"s":"Break"},
{"t":"2024-09-26T03:27:40","p":5819.52,"s":"Break"}
],
"pb":[{"t":"2024-09-25T17:24","p":5782.48,"p2":5781.76}],
"flags":[
{"t":"2024-09-26T05:20:00","p":5828.5,"s":"5828.50"},
{"t":"2024-09-26T05:20:00","p":5825.75,"s":"5825.75"},
{"t":"2024-09-26T05:20:00","p":5825.25,"s":"5825.25"},
{"t":"2024-09-26T05:20:00","p":5821.25,"s":"5821.25"}
],
"notes":[
{"t":"2024-09-25T16:25:15","p":5833.39,"s":"PANA Kanal by ninZa.co (ES DEC24 (3 Minute))"},
{"t":"2024-09-25T16:25:15","p":5774.81,"s":"© 2024 NinjaTrader, LLC"}
],
"arrowNote":[{"t":"2024-09-26T05:00:30","p":5832.77}]
},
"encoding":{"x":{"field":"t","type":"temporal","scale":{"domain":["2024-09-25T16:25:18","2024-09-26T05:08:40"]},"axis":{"title":null,"grid":false,"values":["2024-09-25T17:00","2024-09-25T17:30","2024-09-25T18:00","2024-09-25T18:30","2024-09-25T19:00","2024-09-25T19:30","2024-09-25T20:00","2024-09-25T20:30","2024-09-25T21:00","2024-09-25T21:30","2024-09-25T22:00","2024-09-25T22:30","2024-09-25T23:00","2024-09-25T23:30","2024-09-26T00:00","2024-09-26T00:30","2024-09-26T01:00","2024-09-26T01:30","2024-09-26T02:00","2024-09-26T02:30","2024-09-26T03:00","2024-09-26T03:30","2024-09-26T04:00","2024-09-26T04:30","2024-09-26T05:00"],"labelExpr":"timeFormat(datum.value,'%H:%M')=='00:00' ? 'Sep 26' : timeFormat(datum.value,'%H:%M')","labelColor":"#c8c8c8","labelFont":"Liberation Sans","labelFontSize":10.5,"labelPadding":8,"labelOverlap":false,"labelFlush":false,"domainColor":"#c8c8c8","tickColor":"#c8c8c8","tickSize":5}}},
"layer":[
{"data":{"name":"bars"},"transform":[{"filter":"isValid(datum.a)"}],"mark":{"type":"area","color":"#1f3f60","interpolate":"linear"},"encoding":{"y":{"field":"a","type":"quantitative","scale":{"domain":[5774.01,5834.07]},"axis":{"title":null,"orient":"right","grid":false,"values":[5775,5780,5785,5790,5795,5800,5805,5810,5815,5820,5825,5830],"format":".2f","labelColor":"#c8c8c8","labelFont":"Liberation Sans","labelFontSize":10.5,"labelPadding":4,"domainColor":"#c8c8c8","tickColor":"#c8c8c8","tickSize":5}},"y2":{"field":"m"}}},
{"data":{"name":"bars"},"transform":[{"filter":"isValid(datum.a)"}],"mark":{"type":"area","color":"#1d4c7a","interpolate":"linear"},"encoding":{"y":{"field":"m","type":"quantitative","scale":{"domain":[5774.01,5834.07]}},"y2":{"field":"b"}}},
{"data":{"name":"bandTail"},"mark":{"type":"area","color":"#1f3f60"},"encoding":{"y":{"field":"a","type":"quantitative","scale":{"domain":[5774.01,5834.07]}},"y2":{"field":"m"}}},
{"data":{"name":"bandTail"},"mark":{"type":"area","color":"#1d4c7a"},"encoding":{"y":{"field":"m","type":"quantitative","scale":{"domain":[5774.01,5834.07]}},"y2":{"field":"b"}}},
{"data":{"name":"bars"},"transform":[{"filter":"isValid(datum.b)"}],"mark":{"type":"line","color":"#1e90ff","strokeWidth":3,"interpolate":"linear"},"encoding":{"y":{"field":"b","type":"quantitative","scale":{"domain":[5774.01,5834.07]}}}},
{"data":{"name":"baseLine"},"mark":{"type":"rule","color":"#c8c8c8","strokeWidth":1},"encoding":{"x2":{"field":"t2"},"y":{"field":"p","type":"quantitative","scale":{"domain":[5774.01,5834.07]}}}},
{"data":{"name":"zones"},"mark":{"type":"rect"},"encoding":{"x2":{"field":"t2"},"y":{"field":"p","type":"quantitative","scale":{"domain":[5774.01,5834.07]}},"y2":{"field":"p2"},"color":{"field":"k","type":"nominal","legend":null,"scale":{"domain":["maroon","wine","pink","forest","tab","button","fbox"],"range":["#6e1a48","#6a1838","#ff69b4","#1f5c23","#32cd32","#1e90ff","#2e2e2e"]}}}},
{"data":{"name":"bars"},"transform":[{"filter":"isValid(datum.o)"}],"mark":{"type":"rule","color":"#d0d0d0","strokeWidth":1},"encoding":{"y":{"field":"l","type":"quantitative","scale":{"domain":[5774.01,5834.07]}},"y2":{"field":"h"}}},
{"data":{"name":"bars"},"transform":[{"filter":"isValid(datum.o)"}],"mark":{"type":"bar","size":3,"stroke":"#d0d0d0","strokeWidth":0.8},"encoding":{"y":{"field":"o","type":"quantitative","scale":{"domain":[5774.01,5834.07]}},"y2":{"field":"c"},"fill":{"condition":{"test":"datum.c>datum.o","value":"#32cd32"},"value":"#ff0000"}}},
{"data":{"name":"bars"},"transform":[{"filter":"isValid(datum.u)"}],"mark":{"type":"point","filled":true,"color":"#1e90ff","size":20,"opacity":1,"xOffset":0.7},"encoding":{"y":{"field":"u","type":"quantitative","scale":{"domain":[5774.01,5834.07]}}}},
{"data":{"name":"bars"},"transform":[{"filter":"isValid(datum.d)"}],"mark":{"type":"point","filled":true,"color":"#1e90ff","size":20,"opacity":1,"xOffset":0.7},"encoding":{"y":{"field":"d","type":"quantitative","scale":{"domain":[5774.01,5834.07]}}}},
{"data":{"name":"pink"},"mark":{"type":"point","filled":true,"color":"#ff69b4","size":18,"opacity":1},"encoding":{"y":{"field":"p","type":"quantitative","scale":{"domain":[5774.01,5834.07]}}}},
{"data":{"name":"signals"},"transform":[{"filter":"datum.k=='triangle'"}],"mark":{"type":"point","shape":"triangle-up","filled":true,"color":"#32cd32","size":170,"opacity":1},"encoding":{"y":{"field":"p","type":"quantitative","scale":{"domain":[5774.01,5834.07]}}}},
{"data":{"name":"signals"},"transform":[{"filter":"datum.k=='arrow'"}],"mark":{"type":"point","shape":"M-0.85,0.85 L0.7,-0.7 M-0.25,-0.8 L0.8,-0.8 L0.8,0.25","filled":false,"color":"#32cd32","size":169,"strokeWidth":4,"opacity":1},"encoding":{"y":{"field":"p","type":"quantitative","scale":{"domain":[5774.01,5834.07]}}}},
{"data":{"name":"pb"},"mark":{"type":"rule","color":"#32cd32","strokeWidth":5},"encoding":{"y":{"field":"p","type":"quantitative","scale":{"domain":[5774.01,5834.07]}},"y2":{"field":"p2"}}},
{"data":{"name":"labels"},"mark":{"type":"text","color":"#32cd32","font":"Liberation Sans","fontSize":20,"align":"center","baseline":"middle"},"encoding":{"y":{"field":"p","type":"quantitative","scale":{"domain":[5774.01,5834.07]}},"text":{"field":"s"}}},
{"data":{"name":"notes"},"mark":{"type":"text","color":"#c8c8c8","font":"Liberation Sans","fontSize":10.5,"align":"left","baseline":"middle"},"encoding":{"y":{"field":"p","type":"quantitative","scale":{"domain":[5774.01,5834.07]}},"text":{"field":"s"}}},
{"data":{"values":[{"t":"2024-09-25T16:43:36","p":5831.75,"s":"PANA Kanal"}]},"mark":{"type":"text","color":"#ffffff","font":"Liberation Sans","fontSize":10.5,"align":"center","baseline":"middle"},"encoding":{"y":{"field":"p","type":"quantitative","scale":{"domain":[5774.01,5834.07]}},"text":{"field":"s"}}},
{"data":{"values":[{"t":"2024-09-25T16:24:50","p":5771.71,"s":"ES DEC24"}]},"mark":{"type":"text","color":"#c8c8c8","font":"Liberation Sans","fontSize":8,"align":"left","baseline":"middle"},"encoding":{"y":{"field":"p","type":"quantitative","scale":{"domain":[5774.01,5834.07]}},"text":{"field":"s"}}},
{"data":{"values":[{"t":"2024-09-26T05:28:18","p":5833.36,"s":"F"}]},"mark":{"type":"text","color":"#a8a8a8","font":"Liberation Sans","fontSize":14,"align":"center","baseline":"middle"},"encoding":{"y":{"field":"p","type":"quantitative","scale":{"domain":[5774.01,5834.07]}},"text":{"field":"s"}}},
{"data":{"values":[{"t":"2024-09-26T05:07:06","p":5771.78,"s":"NINJATRADER"}]},"mark":{"type":"text","color":"#f04e23","font":"Liberation Sans","fontWeight":"bold","fontSize":14,"align":"center","baseline":"middle"},"encoding":{"y":{"field":"p","type":"quantitative","scale":{"domain":[5774.01,5834.07]}},"text":{"field":"s"}}},
{"data":{"name":"arrowNote"},"mark":{"type":"point","shape":"M-1,0 L1,0 M0.3,-0.7 L1,0 L0.3,0.7","filled":false,"color":"#c8c8c8","size":324,"strokeWidth":2,"opacity":1},"encoding":{"y":{"field":"p","type":"quantitative","scale":{"domain":[5774.01,5834.07]}}}},
{"data":{"name":"flags"},"mark":{"type":"point","shape":"M-1,0 L-0.8,-0.28 L1,-0.28 L1,0.28 L-0.8,0.28 Z","filled":true,"fill":"#000000","stroke":"#e8e8e8","strokeWidth":1,"size":3600,"opacity":1},"encoding":{"y":{"field":"p","type":"quantitative","scale":{"domain":[5774.01,5834.07]}}}},
{"data":{"name":"flags"},"mark":{"type":"text","color":"#ffffff","font":"Liberation Sans","fontSize":11.5,"dx":4,"align":"center","baseline":"middle"},"encoding":{"y":{"field":"p","type":"quantitative","scale":{"domain":[5774.01,5834.07]}},"text":{"field":"s"}}}
]}
